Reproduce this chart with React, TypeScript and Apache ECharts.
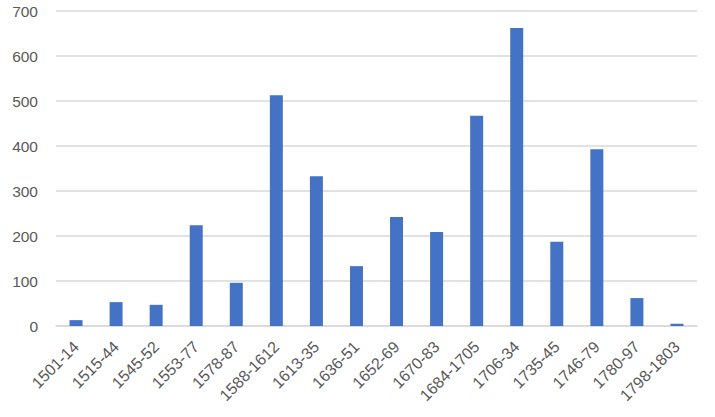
import React, { useEffect, useRef } from "react";
import * as echarts from "echarts";

const categories = [
  "1501-14", "1515-44", "1545-52", "1553-77", "1578-87", "1588-1612",
  "1613-35", "1636-51", "1652-69", "1670-83", "1684-1705", "1706-34",
  "1735-45", "1746-79", "1780-97", "1798-1803",
];
const values = [13, 53, 47, 224, 96, 513, 333, 133, 242, 209, 467, 662, 187, 393, 62, 5];

export default function App() {
  const ref = useRef<HTMLDivElement>(null);
  useEffect(() => {
    if (!ref.current) return;
    const chart = echarts.init(ref.current, undefined, { renderer: "svg" });
    chart.setOption({
      animation: false,
      grid: { left: 56, right: 18, top: 11, bottom: 91, containLabel: false },
      xAxis: {
        type: "category",
        data: categories,
        axisLine: { lineStyle: { color: "#d9d9d9", width: 1.5 } },
        axisTick: { show: false },
        axisLabel: {
          rotate: 45,
          interval: 0,
          color: "#595959",
          fontSize: 16,
          fontFamily: "Liberation Sans, Arial, sans-serif",
          margin: 18,
        },
      },
      yAxis: {
        type: "value",
        min: 0,
        max: 700,
        interval: 100,
        axisLine: { show: false },
        axisTick: { show: false },
        splitLine: { lineStyle: { color: "#d9d9d9", width: 1.5 } },
        axisLabel: {
          color: "#595959",
          fontSize: 15.5,
          fontFamily: "Liberation Sans, Arial, sans-serif",
          margin: 18,
        },
      },
      series: [
        {
          type: "bar",
          data: values,
          barWidth: 13,
          itemStyle: { color: "#4472c4" },
        },
      ],
    });
    return () => chart.dispose();
  }, []);
  return <div ref={ref} style={{ width: 715, height: 417, position: "absolute", left: 0, top: 0 }} />;
}
